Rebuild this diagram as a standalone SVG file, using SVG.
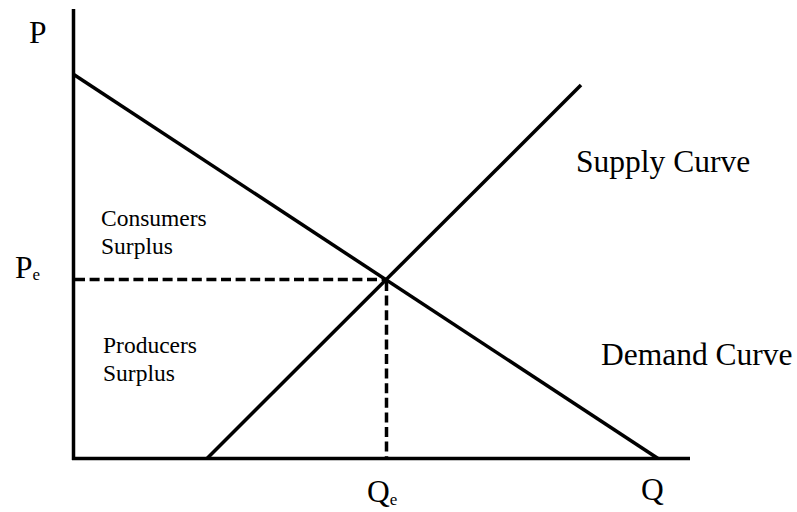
<svg xmlns="http://www.w3.org/2000/svg" width="797" height="512" viewBox="0 0 797 512">
<style>
.ax{stroke:#000;stroke-width:3.5;fill:none;stroke-linecap:butt}
.ln{stroke:#000;stroke-width:3.5;fill:none}
.ds{stroke:#000;stroke-width:3.5;fill:none;stroke-dasharray:10 4.6}
text{font-family:"Liberation Serif","Times New Roman",serif;fill:#000}
.big{font-size:31.5px}
.sm{font-size:23.5px}
.sub{font-size:17px}
</style>
<rect width="797" height="512" fill="#fff"/>
<g id="axes">
<line class="ax" x1="73.5" y1="9" x2="73.5" y2="460"/>
<line class="ax" x1="72" y1="458.5" x2="690" y2="458.5"/>
</g>
<g id="connectors">
<line class="ln" x1="73" y1="74" x2="658" y2="458.5"/>
<line class="ln" x1="207" y1="458.5" x2="581" y2="85"/>
<line class="ds" x1="75" y1="279.5" x2="386" y2="279.5"/>
<line class="ds" x1="386.5" y1="281" x2="386.5" y2="458"/>
</g>
<g id="labels">
<text class="big" x="29" y="43">P</text>
<text class="big" x="15" y="278">P<tspan class="sub" dy="2">e</tspan></text>
<text class="big" x="576" y="172">Supply Curve</text>
<text class="big" x="601" y="365">Demand Curve</text>
<text class="big" x="367" y="502">Q<tspan class="sub" dy="3">e</tspan></text>
<text class="big" x="641" y="500">Q</text>
</g>
<g id="consumers">
<text class="sm" x="101" y="226">Consumers</text>
<text class="sm" x="101" y="254">Surplus</text>
</g>
<g id="producers">
<text class="sm" x="103" y="353">Producers</text>
<text class="sm" x="103" y="381">Surplus</text>
</g>
</svg>
